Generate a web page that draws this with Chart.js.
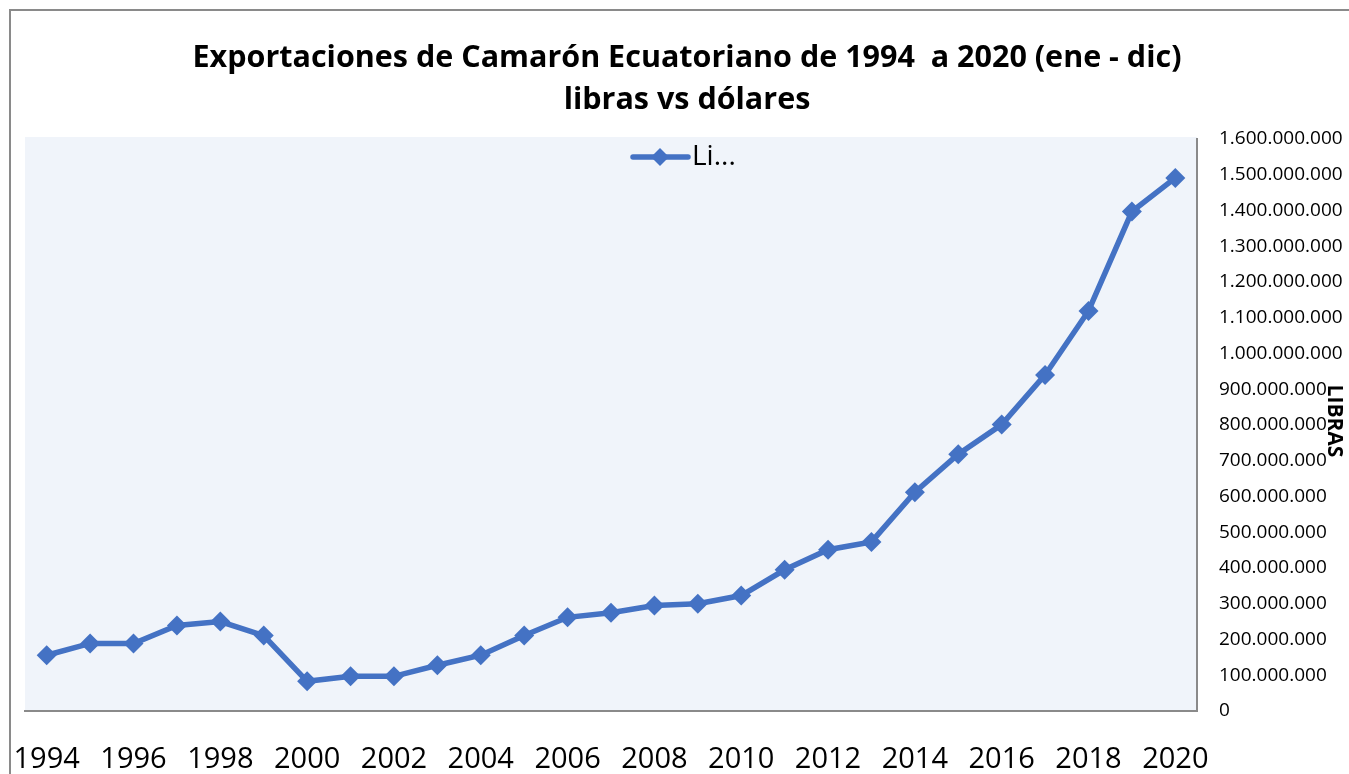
<!DOCTYPE html>
<html>
<head>
<meta charset="utf-8">
<script src="https://cdn.jsdelivr.net/npm/chart.js@4"></script>
<style>
  body { margin: 0; background: #fff; overflow: hidden; }
  canvas { display: block; }
</style>
</head>
<body>
<canvas id="myChart" width="1349" height="774"></canvas>
<script>
// DATOS
const years = ["1994", "1995", "1996", "1997", "1998", "1999", "2000", "2001", "2002",
  "2003", "2004", "2005", "2006", "2007", "2008", "2009", "2010", "2011", "2012",
  "2013", "2014", "2015", "2016", "2017", "2018", "2019", "2020"];
const libras = [156000000, 189000000, 189000000, 239000000, 250000000, 211000000,
  83000000, 97000000, 97000000, 128000000, 156000000, 211000000, 262000000,
  275000000, 295000000, 300000000, 323000000, 395000000, 451000000, 473000000,
  612000000, 718000000, 801000000, 940000000, 1119000000, 1397000000, 1491000000];
const yMax = 1600000000;
const yStep = 100000000;
const titleLines = ["Exportaciones de Camarón Ecuatoriano de 1994  a 2020 (ene - dic)", "libras vs dólares"];
const legendText = "Li...";
const yTitle = "LIBRAS";

const azul = "#4472C4";
const gris = "#8A8A8A";

// fondo, marco y leyenda estilo excel
const excelLook = {
  id: "excelLook",
  beforeDraw(chart) {
    const { ctx, chartArea } = chart;
    ctx.save();
    ctx.fillStyle = "#F0F4FA";
    ctx.fillRect(chartArea.left, chartArea.top - 2, chartArea.right - chartArea.left, chartArea.bottom - chartArea.top + 2);
    ctx.strokeStyle = gris;
    ctx.lineWidth = 2;
    ctx.strokeRect(10, 10, 1400, 900);
    ctx.restore();
  },
  afterDraw(chart) {
    const { ctx } = chart;
    ctx.save();
    // leyenda
    const ly = 157;
    ctx.strokeStyle = azul;
    ctx.lineWidth = 5.5;
    ctx.lineCap = "round";
    ctx.beginPath();
    ctx.moveTo(633, ly);
    ctx.lineTo(688, ly);
    ctx.stroke();
    ctx.fillStyle = azul;
    ctx.beginPath();
    ctx.moveTo(660, ly - 9);
    ctx.lineTo(669, ly);
    ctx.lineTo(660, ly + 9);
    ctx.lineTo(651, ly);
    ctx.closePath();
    ctx.fill();
    ctx.fillStyle = "#000";
    ctx.font = "28px 'Open Sans'";
    ctx.textBaseline = "middle";
    ctx.fillText(legendText, 692, ly);
    // titulo del eje
    ctx.translate(1334, 421);
    ctx.rotate(Math.PI / 2);
    ctx.font = "bold 21px 'Open Sans'";
    ctx.textAlign = "center";
    ctx.fillText(yTitle, 0, 0);
    ctx.restore();
  }
};

const ctx = document.getElementById("myChart");

new Chart(ctx, {
  type: "line",
  data: {
    labels: years,
    datasets: [
      {
        label: "Libras",
        data: libras,
        borderColor: azul,
        backgroundColor: azul,
        borderWidth: 5.5,
        pointStyle: "rectRot",
        pointRadius: 10,
        pointBorderWidth: 0,
        tension: 0,
      },
    ],
  },
  options: {
    responsive: false,
    animation: false,
    layout: { padding: { left: 25, right: 0, top: 0, bottom: 0 } },
    plugins: {
      legend: { display: false },
      tooltip: { enabled: false },
      title: {
        display: true,
        text: titleLines,
        color: "#000",
        font: { family: "'Open Sans'", size: 30.5, weight: "bold", lineHeight: 1.36 },
        padding: { top: 38, bottom: 18 },
      },
    },
    scales: {
      x: {
        offset: true,
        grid: { display: false, drawTicks: false },
        border: { display: true, color: gris, width: 2 },
        ticks: {
          color: "#000",
          font: { family: "'Open Sans'", size: 29 },
          autoSkip: false,
          maxRotation: 0,
          padding: 31,
          callback: (v, i) => (i % 2 === 0 ? years[i] : ""),
        },
        afterFit: (s) => { s.height = 63; s.paddingLeft = 0; s.paddingRight = 0; },
      },
      y: {
        position: "right",
        min: 0,
        max: yMax,
        grid: { display: false, drawTicks: false },
        border: { display: true, color: gris, width: 2 },
        ticks: {
          stepSize: yStep,
          color: "#000",
          font: { family: "'Open Sans'", size: 19 },
          padding: 22,
          callback: (v) => v.toString().replace(/\B(?=(\d{3})+(?!\d))/g, "."),
        },
        afterFit: (s) => { s.width = 152; },
      },
    },
  },
  plugins: [excelLook],
});
</script>
</body>
</html>
